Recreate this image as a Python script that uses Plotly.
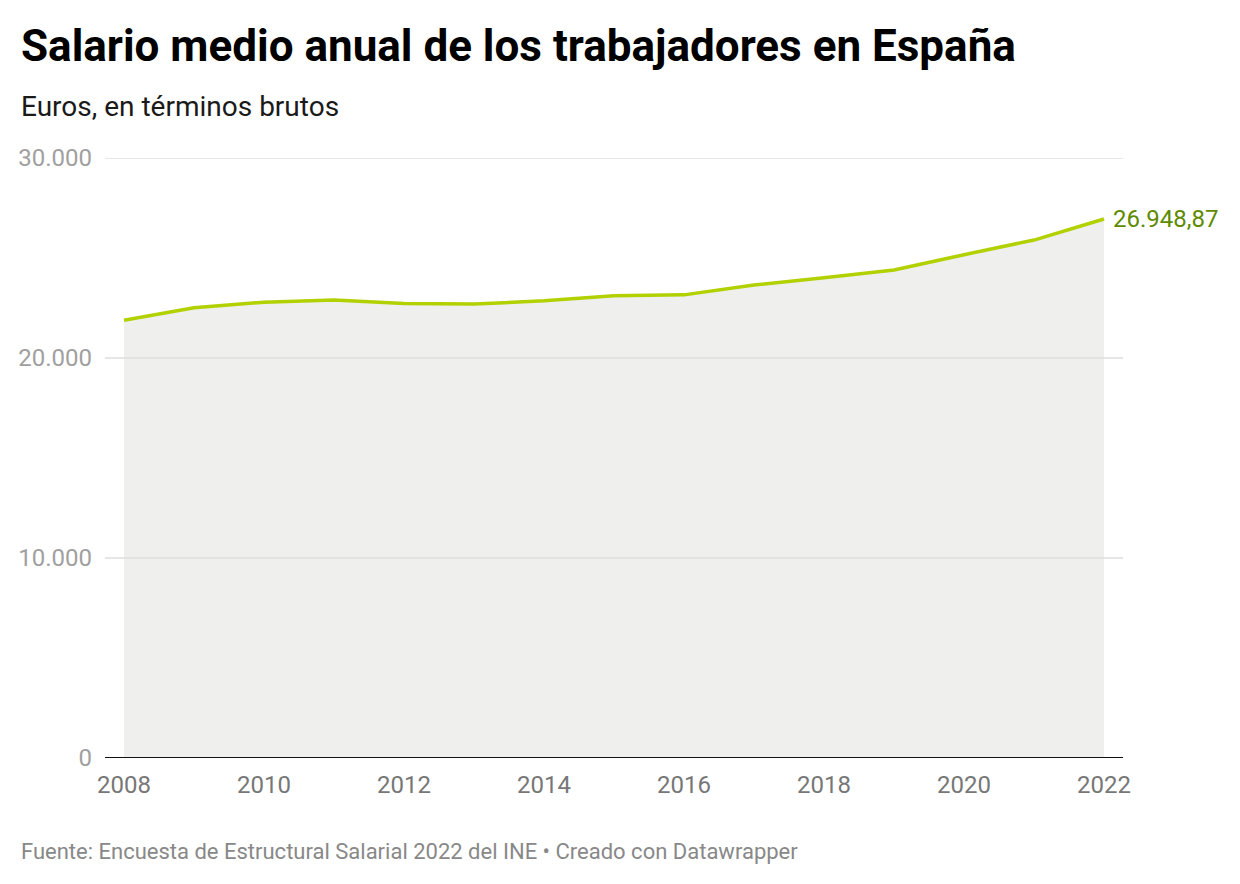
import plotly.graph_objects as go

years = [2008, 2009, 2010, 2011, 2012, 2013, 2014, 2015, 2016, 2017, 2018, 2019, 2020, 2021, 2022]
salario = [21883.42, 22511.47, 22790.20, 22899.35, 22726.44, 22697.86, 22858.17, 23106.30,
           23156.34, 23646.50, 24009.12, 24395.98, 25165.51, 25896.82, 26948.87]
y_ticks = [0, 10000, 20000, 30000]
y_tick_labels = ["0", "10.000", "20.000", "30.000"]
x_ticks = [2008, 2010, 2012, 2014, 2016, 2018, 2020, 2022]
end_label = "26.948,87"

W, H = 1240, 884
L, R, T, B = 105, 117, 158, 126
ph = H - T - B

def py(px):
    return (H - B - px) / ph

def pxx(px):
    return (px - L) / (W - L - R)

fig = go.Figure()
fig.add_trace(go.Scatter(
    x=years, y=salario, mode="lines",
    line=dict(color="#b3d100", width=3.5),
    fill="tozeroy", fillcolor="#efefee",
    hoverinfo="skip", showlegend=False,
))

fig.add_annotation(x=years[-1], y=salario[-1], xref="x", yref="y", text=end_label,
                   showarrow=False, xanchor="left", yanchor="middle", xshift=7,
                   font=dict(family="Roboto", size=24, color="#5e8a00"))

fig.add_annotation(x=pxx(19), y=py(46), xref="paper", yref="paper",
                   text="<b>Salario medio anual de los trabajadores en España</b>",
                   showarrow=False, xanchor="left", yanchor="middle",
                   font=dict(family="Roboto", size=44, color="#000000"))
fig.add_annotation(x=pxx(19), y=py(106), xref="paper", yref="paper",
                   text="Euros, en términos brutos",
                   showarrow=False, xanchor="left", yanchor="middle",
                   font=dict(family="Roboto", size=28, color="#1a1a1a"))
fig.add_annotation(x=pxx(19), y=py(851), xref="paper", yref="paper",
                   text="Fuente: Encuesta de Estructural Salarial 2022 del INE • Creado con Datawrapper",
                   showarrow=False, xanchor="left", yanchor="middle",
                   font=dict(family="Roboto", size=22, color="#888888"))

# gridlines drawn above the area fill
for v in y_ticks[1:]:
    fig.add_shape(type="line", xref="paper", yref="y", x0=0, x1=1, y0=v, y1=v,
                  layer="above", line=dict(color="#dedede", width=1.5))
# baseline
fig.add_shape(type="line", xref="paper", yref="y", x0=0, x1=1, y0=0, y1=0,
              layer="above", line=dict(color="#111111", width=2))

fig.update_layout(
    width=W, height=H,
    margin=dict(l=L, r=R, t=T, b=B),
    paper_bgcolor="white", plot_bgcolor="white",
    xaxis=dict(range=[2008 - 19/70, 2022 + 19/70], tickvals=x_ticks,
               ticktext=[str(v) for v in x_ticks], showgrid=False, zeroline=False,
               showline=False, ticks="", ticklabelstandoff=10,
               tickfont=dict(family="Roboto", size=24, color="#777777")),
    yaxis=dict(range=[0, 30000], tickvals=y_ticks, ticktext=y_tick_labels,
               showgrid=False, zeroline=False,
               showline=False, ticks="", ticklabelstandoff=12,
               tickfont=dict(family="Roboto", size=24, color="#a0a0a0")),
)

fig.write_html("out.html")
